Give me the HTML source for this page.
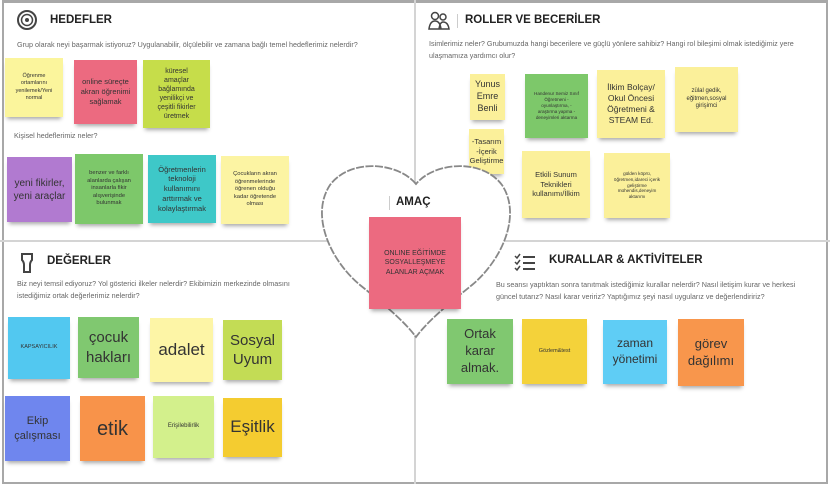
<!DOCTYPE html>
<html><head><meta charset="utf-8"><style>
*{margin:0;padding:0;box-sizing:border-box}
body{width:830px;height:487px;background:#fff;position:relative;overflow:hidden;font-family:"Liberation Sans","DejaVu Sans",sans-serif;color:#333}
.frame{position:absolute;left:2px;top:0;width:826px;height:484px;border:2px solid #a8a8a8;border-top-width:3px}
.vl{position:absolute;left:414px;top:0;width:2px;height:484px;background:#d4d4d4}
.hl{position:absolute;left:0;top:240px;width:830px;height:2px;background:#d4d4d4}
.t{position:absolute;font-weight:bold;font-size:11.5px;color:#222}
.q{position:absolute;font-size:7.2px;color:#666;line-height:12px}
.n{position:absolute;display:flex;align-items:center;justify-content:center;text-align:center;color:#333;line-height:1.3;box-shadow:0 4px 4px -2px rgba(0,0,0,0.35);padding:2px 7px}
</style></head><body>
<div class="frame"></div>
<div class="vl"></div><div class="hl"></div>

<!-- HEDEFLER -->
<svg style="position:absolute;left:15px;top:9px" width="24" height="22"><circle cx="12" cy="11" r="9" fill="none" stroke="#444" stroke-width="2"/><circle cx="12" cy="11" r="5.5" fill="none" stroke="#444" stroke-width="1.5"/><circle cx="12" cy="11" r="2" fill="#444"/></svg>
<div class="t" style="left:50px;top:14px">HEDEFLER</div>
<div class="q" style="left:17px;top:39px;white-space:nowrap">Grup olarak neyi başarmak istiyoruz? Uygulanabilir, ölçülebilir ve zamana bağlı temel hedeflerimiz nelerdir?</div>
<div class="n" style="left:5px;top:58px;width:58px;height:59px;background:#fbf59c;font-size:5.5px;padding:2px 8px">Öğrenme ortamlarını yenilemek/Yeni normal</div>
<div class="n" style="left:74px;top:60px;width:63px;height:64px;background:#ec6a80;font-size:7.5px;padding:2px 6px">online süreçte akran öğrenimi sağlamak</div>
<div class="n" style="left:143px;top:60px;width:67px;height:68px;background:#c6dd4a;font-size:7px;padding:2px 9px">küresel amaçlar bağlamında yenilikçi ve çeşitli fikirler üretmek</div>
<div class="q" style="left:14px;top:130px">Kişisel hedeflerimiz neler?</div>
<div class="n" style="left:7px;top:157px;width:65px;height:65px;background:#b17ad0;font-size:10px;padding:2px 4px">yeni fikirler, yeni araçlar</div>
<div class="n" style="left:75px;top:154px;width:68px;height:70px;background:#7dc86a;font-size:5.8px;padding:2px 6px">benzer ve farklı alanlarda çalışan insanlarla fikir alışverişinde bulunmak</div>
<div class="n" style="left:148px;top:155px;width:68px;height:68px;background:#3ec8c8;font-size:7.5px;padding:2px 3px">Öğretmenlerin teknoloji kullanımını arttırmak ve kolaylaştırmak</div>
<div class="n" style="left:221px;top:156px;width:68px;height:68px;background:#fcf4a3;font-size:5.8px;padding:2px 8px">Çocukların akran öğrenmelerinde öğrenen olduğu kadar öğretende olması</div>

<!-- ROLLER -->
<svg style="position:absolute;left:428px;top:11px" width="22" height="20"><circle cx="7" cy="5" r="3.5" fill="none" stroke="#444" stroke-width="1.5"/><circle cx="15" cy="6" r="3" fill="none" stroke="#444" stroke-width="1.5"/><path d="M1,18 Q2,10 7,10 Q12,10 13,18Z M11,18 Q12,11 15,11 Q20,11 21,18Z" fill="none" stroke="#444" stroke-width="1.5"/></svg>
<div style="position:absolute;left:457px;top:14px;width:1px;height:14px;background:#ccc"></div>
<div class="t" style="left:465px;top:14px">ROLLER VE BECERİLER</div>
<div class="q" style="left:429px;top:38px;width:375px">Isimlerimiz neler? Grubumuzda hangi becerilere ve güçlü yönlere sahibiz? Hangi rol bileşimi olmak istediğimiz yere ulaşmamıza yardımcı olur?</div>
<div class="n" style="left:470px;top:74px;width:35px;height:46px;background:#fbf09a;font-size:9px;padding:1px">Yunus Emre Benli</div>
<div class="n" style="left:525px;top:74px;width:63px;height:64px;background:#7dc86a;font-size:4.6px;padding:2px 7px">Handenur Semiz Sınıf Öğretmeni -oyunlaştırma, -araştırma yapma -deneyimleri aktarma</div>
<div class="n" style="left:597px;top:70px;width:68px;height:68px;background:#fbf09a;font-size:8.5px;padding:1px">İlkim Bolçay/ Okul Öncesi Öğretmeni &amp; STEAM Ed.</div>
<div class="n" style="left:675px;top:67px;width:63px;height:65px;background:#fbf09a;font-size:6px;padding:2px 5px">zülal gedik, eğitmen,sosyal girişimci</div>
<div class="n" style="left:469px;top:129px;width:35px;height:45px;background:#fbf09a;font-size:7.5px;padding:1px">-Tasarım -İçerik Geliştirme</div>
<div class="n" style="left:522px;top:151px;width:68px;height:67px;background:#fbf09a;font-size:7.5px;padding:2px 4px">Etkili Sunum Teknikleri kullanımı/İlkim</div>
<div class="n" style="left:604px;top:153px;width:66px;height:65px;background:#fbf09a;font-size:4.6px;padding:2px 8px">gülden köprü, öğretmen,idareci içerik geliştirme mühendis,deneyim aktarımı</div>

<!-- DEĞERLER -->
<svg style="position:absolute;left:19px;top:252px" width="16" height="22"><path d="M3,2 H13 V8 Q11,10 11,13 V20 H5 V13 Q5,10 3,8Z" fill="none" stroke="#444" stroke-width="2"/></svg>
<div class="t" style="left:47px;top:255px">DEĞERLER</div>
<div class="q" style="left:17px;top:278px;width:295px">Biz neyi temsil ediyoruz? Yol gösterici ilkeler nelerdir? Ekibimizin merkezinde olmasını istediğimiz ortak değerlerimiz nelerdir?</div>
<div class="n" style="left:8px;top:317px;width:62px;height:62px;background:#52c8f0;font-size:5.5px;padding:1px">KAPSAYICILIK</div>
<div class="n" style="left:78px;top:317px;width:61px;height:61px;background:#80c870;font-size:15px;padding:1px">çocuk hakları</div>
<div class="n" style="left:150px;top:318px;width:63px;height:64px;background:#fdf5a6;font-size:17px;padding:1px">adalet</div>
<div class="n" style="left:223px;top:320px;width:59px;height:60px;background:#c3dc55;font-size:15px;padding:1px">Sosyal Uyum</div>
<div class="n" style="left:5px;top:396px;width:65px;height:65px;background:#6f86ee;font-size:11px;padding:1px">Ekip çalışması</div>
<div class="n" style="left:80px;top:396px;width:65px;height:65px;background:#f8934a;font-size:20px;padding:1px">etik</div>
<div class="n" style="left:153px;top:396px;width:61px;height:62px;background:#d3f08c;font-size:6px;padding:1px">Erişilebilirlik</div>
<div class="n" style="left:223px;top:398px;width:59px;height:59px;background:#f4cc30;font-size:17px;padding:1px">Eşitlik</div>

<!-- KURALLAR -->
<svg style="position:absolute;left:513px;top:252px" width="24" height="20"><path d="M2,4 l2,2 3,-4 M2,10 l2,2 3,-4 M2,16 l2,2 3,-4" fill="none" stroke="#444" stroke-width="1.5"/><path d="M10,5 H22 M10,11 H22 M10,17 H22" stroke="#444" stroke-width="2"/></svg>
<div class="t" style="left:549px;top:254px">KURALLAR &amp; AKTİVİTELER</div>
<div class="q" style="left:496px;top:279px;width:300px">Bu seansı yaptıktan sonra tanıtmak istediğimiz kurallar nelerdir? Nasıl iletişim kurar ve herkesi güncel tutarız? Nasıl karar veririz? Yaptığımız şeyi nasıl uygularız ve değerlendiririz?</div>
<div class="n" style="left:447px;top:319px;width:66px;height:65px;background:#80c870;font-size:13px;padding:1px 8px">Ortak karar almak.</div>
<div class="n" style="left:522px;top:319px;width:65px;height:65px;background:#f4d23a;font-size:5.5px;padding:1px">Gözlem&amp;test</div>
<div class="n" style="left:603px;top:320px;width:64px;height:64px;background:#5fcdf5;font-size:12px;padding:1px">zaman yönetimi</div>
<div class="n" style="left:678px;top:319px;width:66px;height:67px;background:#f8964c;font-size:13px;padding:1px">görev dağılımı</div>

<!-- Heart -->
<svg style="position:absolute;left:0;top:0" width="830" height="487"><path d="M416,184 C398,162 350,158 330,185 C310,215 330,260 360,285 C385,305 405,322 416,337 C427,322 447,305 472,285 C502,260 522,215 502,185 C482,158 434,162 416,184Z" fill="#fff" stroke="#888" stroke-width="1.8" stroke-dasharray="8,1.5"/></svg>
<div style="position:absolute;left:389px;top:196px;width:1px;height:14px;background:#ccc"></div>
<div class="t" style="left:396px;top:196px">AMAÇ</div>
<div class="n" style="left:369px;top:217px;width:92px;height:92px;background:#ec6a80;font-size:7px;padding:2px 6px">ONLINE EĞİTİMDE SOSYALLEŞMEYE ALANLAR AÇMAK</div>
</body></html>
